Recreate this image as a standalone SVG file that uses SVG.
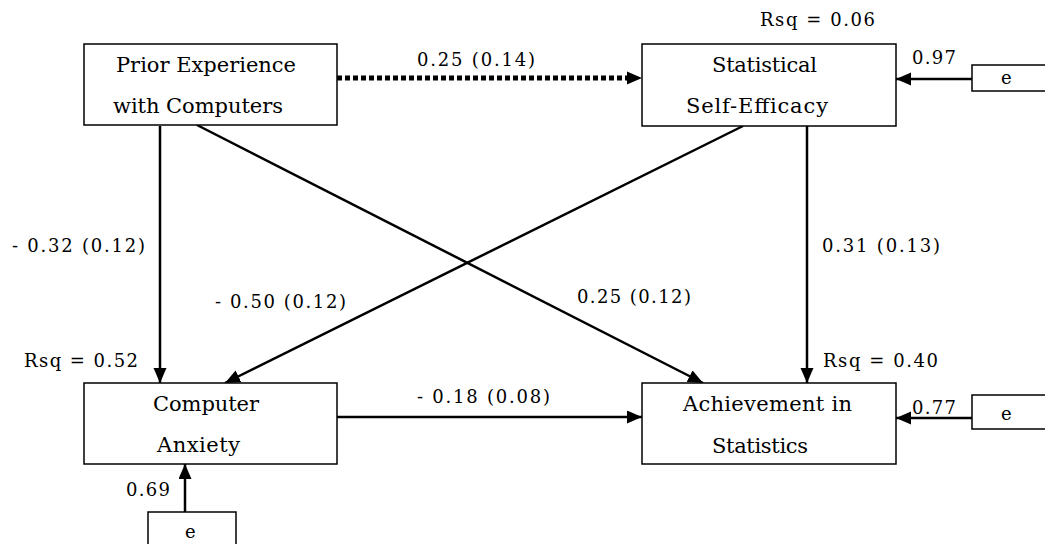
<svg xmlns="http://www.w3.org/2000/svg" width="1045" height="544" viewBox="0 0 1045 544">
<style>
  .box { fill: #fff; stroke: #000; stroke-width: 1.5; }
  .lbl { font-family: 'DejaVu Serif', 'Tinos', 'Noto Serif', 'Times New Roman', Times, 'Liberation Serif', serif; font-size: 21px; fill: #000; }
  .num { font-family: 'DejaVu Serif', 'Tinos', 'Noto Serif', 'Times New Roman', Times, 'Liberation Serif', serif; font-size: 18px; fill: #000; }
  .edge { fill: none; stroke: #000; stroke-width: 2.5; }
  .dash { fill: none; stroke: #000; stroke-width: 5; stroke-dasharray: 5 3; }
</style>
<defs>
  <marker id="arr" markerUnits="userSpaceOnUse" markerWidth="16" markerHeight="14" refX="15" refY="6.5" orient="auto">
    <path d="M0,0 L15,6.5 L0,13 z" fill="#000"/>
  </marker>
</defs>
<rect width="1045" height="544" fill="#fff"/>

<g id="connectors">
  <line class="dash" x1="337" y1="78" x2="628" y2="78"/>
  <path d="M627,71.5 L642,78 L627,84.5 z" fill="#000"/>
  <line class="edge" x1="972" y1="79" x2="896" y2="79" marker-end="url(#arr)"/>
  <line class="edge" x1="160" y1="126" x2="160" y2="383" marker-end="url(#arr)"/>
  <line class="edge" x1="807" y1="126" x2="807" y2="383" marker-end="url(#arr)"/>
  <line class="edge" x1="197" y1="125" x2="703" y2="383" marker-end="url(#arr)"/>
  <line class="edge" x1="743" y1="126" x2="225" y2="383" marker-end="url(#arr)"/>
  <line class="edge" x1="337" y1="417" x2="642" y2="417" marker-end="url(#arr)"/>
  <line class="edge" x1="972" y1="418" x2="896" y2="418" marker-end="url(#arr)"/>
  <line class="edge" x1="185" y1="512" x2="185" y2="464" marker-end="url(#arr)"/>
</g>

<g id="edge-labels">
  <text class="num" x="417" y="66" textLength="118">0.25 (0.14)</text>
  <text class="num" x="12" y="252" textLength="133">- 0.32 (0.12)</text>
  <text class="num" x="822" y="252" textLength="118">0.31 (0.13)</text>
  <text class="num" x="215" y="308" textLength="131">- 0.50 (0.12)</text>
  <text class="num" x="577" y="303" textLength="114">0.25 (0.12)</text>
  <text class="num" x="417" y="403" textLength="133">- 0.18 (0.08)</text>
  <text class="num" x="912" y="64" textLength="44">0.97</text>
  <text class="num" x="912" y="414" textLength="44">0.77</text>
  <text class="num" x="126" y="496" textLength="44">0.69</text>
</g>

<g id="prior">
  <rect class="box" x="84" y="44" width="253" height="81"/>
  <text class="lbl" x="116" y="72" textLength="180">Prior Experience</text>
  <text class="lbl" x="113" y="113" textLength="170">with Computers</text>
</g>

<g id="efficacy">
  <rect class="box" x="642" y="44" width="254" height="82"/>
  <text class="lbl" x="712" y="72" textLength="105">Statistical</text>
  <text class="lbl" x="686" y="113" textLength="142">Self-Efficacy</text>
  <text class="num" x="760" y="26" textLength="115">Rsq = 0.06</text>
</g>

<g id="anxiety">
  <rect class="box" x="84" y="383" width="253" height="81"/>
  <text class="lbl" x="153" y="411" textLength="106">Computer</text>
  <text class="lbl" x="157" y="452" textLength="83">Anxiety</text>
  <text class="num" x="24" y="367" textLength="114">Rsq = 0.52</text>
</g>

<g id="achievement">
  <rect class="box" x="642" y="383" width="254" height="81"/>
  <text class="lbl" x="683" y="411" textLength="169">Achievement in</text>
  <text class="lbl" x="712" y="453" textLength="96">Statistics</text>
  <text class="num" x="823" y="367" textLength="115">Rsq = 0.40</text>
</g>

<g id="e-efficacy">
  <rect class="box" x="972" y="65" width="80" height="26"/>
  <text class="num" x="1001" y="84">e</text>
</g>

<g id="e-achievement">
  <rect class="box" x="972" y="395" width="80" height="34"/>
  <text class="num" x="1001" y="420">e</text>
</g>

<g id="e-anxiety">
  <rect class="box" x="148" y="512" width="88" height="40"/>
  <text class="num" x="185" y="538">e</text>
</g>
</svg>
